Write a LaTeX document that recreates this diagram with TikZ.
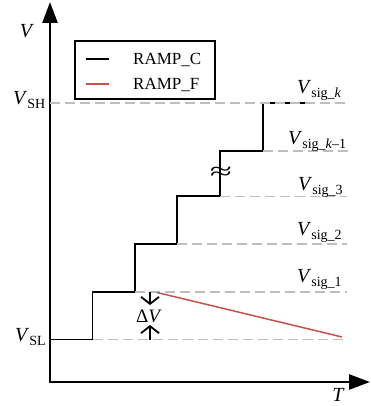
\documentclass[tikz,border=0pt]{standalone}
\usepackage{fontspec}
\setmainfont{Liberation Serif}
\usetikzlibrary{arrows.meta}
\definecolor{guidegray}{RGB}{190,190,190}
\definecolor{rampred}{RGB}{200,82,74}
\newcommand{\sbs}[1]{\raisebox{-4pt}{\fontsize{14}{14}\selectfont #1}}
\begin{document}
\begin{tikzpicture}[x=1pt,y=-1pt,
  axis/.style={line width=2.6pt,{Triangle[length=21pt,width=15pt]}-{Triangle[length=21pt,width=15pt]}},
  guide/.style={draw=guidegray,line width=1.6pt,dash pattern=on 10pt off 5pt},
  stair/.style={line width=1.8pt,black},
  fall/.style={line width=1.5pt,rampred},
  dv/.style={line width=1.8pt,-{Straight Barb[length=7pt,width=18pt]}},
  lab/.style={inner sep=0pt,anchor=base west,font=\fontsize{20}{20}\selectfont},
  legtext/.style={inner sep=0pt,anchor=base west,font=\fontsize{17}{17}\selectfont},
]
\useasboundingbox (0,0) rectangle (370,406);
% axes
\coordinate (O) at (50,382);
\coordinate (Ytip) at (50,2);
\coordinate (Xtip) at (370,382);
\draw[axis] (Ytip) -- (O) -- (Xtip);
\node[inner sep=0pt,font=\fontsize{20}{20}\selectfont\itshape] (vlab) at (26,31) {V};
\node[inner sep=0pt,font=\fontsize{20}{20}\selectfont\itshape] (tlab) at (338,395) {T};
% staircase
\coordinate (s0) at (50,339.5);
\coordinate (s1) at (92.5,339.5);
\coordinate (s2) at (92.5,291.7);
\coordinate (s3) at (135,291.7);
\coordinate (s4) at (135,244);
\coordinate (s5) at (177,244);
\coordinate (s6) at (177,196.3);
\coordinate (s7) at (220,196.3);
\coordinate (s8) at (220,150.7);
\coordinate (s9) at (263,150.7);
\coordinate (s10) at (263,103.3);
\coordinate (s11) at (305,103.3);
\draw[stair] (s0) -- (s1) -- (s2) -- (s3) -- (s4) -- (s5) -- (s6) -- (s7) -- (s8) -- (s9) -- (s10) -- (s11);
% guides
\coordinate (gSH) at (50,103.3);
\coordinate (eSH) at (345,103.3);
\coordinate (eK1) at (350,150.7);
\coordinate (e3) at (347,196.3);
\coordinate (e2) at (347,244);
\coordinate (e1) at (347,291.7);
\coordinate (eSL) at (343,339.5);
\draw[guide] (gSH) -- (eSH);
\draw[guide] (s9) -- (eK1);
\draw[guide] (s7) -- (e3);
\draw[guide] (s5) -- (e2);
\draw[guide] (s3) -- (e1);
\draw[guide] (s1) -- (eSL);
% red ramp
\coordinate (r0) at (157,292.5);
\coordinate (r1) at (342,337);
\draw[fall] (r0) -- (r1);
% delta V
\coordinate (d0) at (150,292);
\coordinate (d1) at (150,305);
\coordinate (d2) at (150,339.5);
\coordinate (d3) at (150,325);
\draw[dv] (d0) -- (d1);
\draw[dv] (d2) -- (d3);
\node[inner sep=0pt,font=\fontsize{19}{19}\selectfont] (dvlab) at (149,316) {Δ\textit{V}};
% approx sign
\node[inner sep=0pt,font=\fontsize{30}{30}\selectfont] (approx) at (221,173) {\scalebox{1.35}[0.8]{≈}};
% labels
\node[lab] (vsh) at (13,105) {\textit{V}\sbs{SH}};
\node[lab] (vsl) at (15,341) {\textit{V}\sbs{SL}};
\node[lab] (vk) at (297,94) {\textit{V}\sbs{sig\_\textit{k}}};
\node[lab] (vk1) at (288,145) {\textit{V}\sbs{sig\_\textit{k}–1}};
\node[lab] (v3) at (298,190) {\textit{V}\sbs{sig\_3}};
\node[lab] (v2) at (297,235) {\textit{V}\sbs{sig\_2}};
\node[lab] (v1) at (297,282.7) {\textit{V}\sbs{sig\_1}};
% legend
\node[draw,line width=1.5pt,minimum width=140pt,minimum height=58pt,inner sep=0pt] (legend) at (145,70) {};
\coordinate (lc0) at (86,59);
\coordinate (lc1) at (109,59);
\coordinate (lf0) at (86,84);
\coordinate (lf1) at (109,84);
\draw[line width=1.8pt,black] (lc0) -- (lc1);
\draw[line width=1.8pt,rampred] (lf0) -- (lf1);
\node[legtext] (lct) at (133,64.7) {RAMP\_C};
\node[legtext] (lft) at (133,89.9) {RAMP\_F};
\end{tikzpicture}
\end{document}
